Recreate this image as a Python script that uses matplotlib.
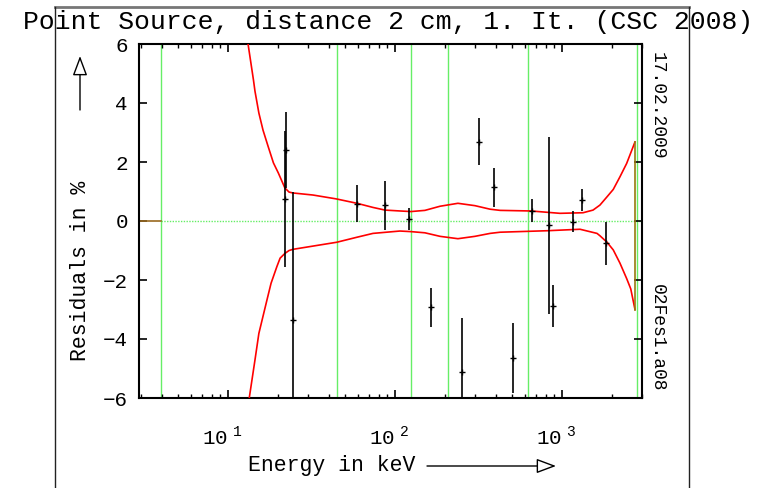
import matplotlib
matplotlib.use("Agg")
import matplotlib.pyplot as plt
from matplotlib.lines import Line2D
from matplotlib.patches import FancyArrowPatch
from matplotlib.ticker import LogLocator, NullFormatter, FixedLocator
from matplotlib.transforms import ScaledTranslation
import numpy as np

W, H = 772, 488

# ---------------- data ----------------
energies = [21.9, 22.2, 24.6, 59.0, 87.1, 121.8, 164, 253, 318.6, 390, 511, 658, 832, 887, 1164, 1324, 1833]
residuals = [0.74, 2.41, -3.36, 0.58, 0.54, 0.06, -2.93, -5.13, 2.69, 1.14, -4.65, 0.35, -0.14, -2.88, -0.02, 0.71, -0.76]
errors = [2.3, 1.3, 4.35, 0.63, 0.83, 0.37, 0.66, 1.85, 0.8, 0.67, 1.19, 0.4, 3.0, 0.7, 0.35, 0.36, 0.74]

upper_e = [12.8, 13.18, 14.2, 14.5, 15.3, 16.2, 17.4, 18.7, 20.0, 21.9, 23.2, 24.5, 32.3, 44.4, 59.2, 73.8,
           87.1, 107, 124.6, 151, 186, 238, 301, 371, 426, 652, 972, 1336, 1534, 1687, 1860, 2027, 2224,
           2438, 2735]
upper_v = [7.0, 6.0, 4.78, 4.4, 3.66, 3.08, 2.52, 1.97, 1.63, 1.12, 0.98, 0.95, 0.88, 0.75, 0.6, 0.46,
           0.37, 0.34, 0.32, 0.36, 0.5, 0.6, 0.52, 0.4, 0.36, 0.34, 0.26, 0.28, 0.37, 0.54, 0.82, 1.07, 1.5,
           1.95, 2.68]
lower_e = [13.0, 13.4, 14.5, 15.3, 17.1, 18.1, 19.6, 20.5, 21.9, 23.2, 24.5, 44.8, 59.2, 73.8, 107, 124.6,
           151, 186, 238, 301, 371, 426, 813, 1282, 1620, 1687, 1860, 2027, 2224, 2438, 2580, 2735]
lower_v = [-7.0, -6.0, -4.71, -3.81, -2.68, -2.11, -1.55, -1.26, -1.1, -1.0, -0.96, -0.72, -0.55, -0.42,
           -0.34, -0.36, -0.4, -0.52, -0.6, -0.52, -0.42, -0.38, -0.33, -0.28, -0.42, -0.5, -0.72, -0.98,
           -1.43, -1.95, -2.3, -3.0]

green_lines = [3.95, 44.8, 124, 208, 624, 2800]

title = "Point Source, distance 2 cm, 1. It. (CSC 2008)"
xlabel = "Energy in keV"
ylabel = "Residuals in %"
date_text = "17.02.2009"
file_text = "02Fes1.a08"
yticks = [-6, -4, -2, 0, 2, 4, 6]
xticks = [10, 100, 1000]
xticklabels = [r"$\mathrm{10}^{\ 1}$", r"$\mathrm{10}^{\ 2}$", r"$\mathrm{10}^{\ 3}$"]

# ---------------- style ----------------
FONT = ["Liberation Mono", "DejaVu Sans"]
plt.rcParams["font.family"] = FONT
plt.rcParams["mathtext.fontset"] = "custom"
plt.rcParams["mathtext.rm"] = "Liberation Mono"
plt.rcParams["axes.unicode_minus"] = True

fig = plt.figure(figsize=(W / 100, H / 100), dpi=100)

def fx(px):
    return px / W

def fy(py):
    return 1 - py / H

ax_l, ax_r, ax_t, ax_b = 139, 642, 44, 398
ax = fig.add_axes([fx(ax_l), fy(ax_b), fx(ax_r) - fx(ax_l), fy(ax_t) - fy(ax_b)])
ax.set_xscale("log")
ax.set_xlim(2.93, 3013)
ax.set_ylim(-6, 6)

# green vertical lines
for e in green_lines:
    ax.axvline(e, color="#66ee66", lw=1.0, zorder=1)
# zero line
ax.plot([2.93, 3.95], [0, 0], color="#9a6a20", lw=1.2, zorder=2)
ax.plot([3.95, 3013], [0, 0], color="#66ee66", lw=1.0, ls=(0, (1, 1)), zorder=1)

# band
ax.plot(upper_e, upper_v, color="red", lw=1.2, zorder=3, solid_joinstyle="round")
ax.plot(lower_e, lower_v, color="red", lw=1.2, zorder=3, solid_joinstyle="round")
ax.plot([upper_e[-1], lower_e[-1]], [upper_v[-1], lower_v[-1]], color="#9a7a10", lw=1.2, zorder=3)

# data
ax.errorbar(energies, residuals, yerr=errors, fmt="+", color="black", ms=5, mew=1.0,
            elinewidth=1.2, capsize=0, zorder=4)

# ticks
ax.yaxis.set_major_locator(FixedLocator(yticks))
ax.set_yticklabels([("\u2212%d" % abs(v)) if v < 0 else "%d" % v for v in yticks])
ax.xaxis.set_major_locator(FixedLocator(xticks))
ax.set_xticklabels(xticklabels)
ax.xaxis.set_minor_locator(LogLocator(base=10, subs=np.arange(2, 10), numticks=20))
ax.xaxis.set_minor_formatter(NullFormatter())
ax.tick_params(axis="both", which="major", direction="in", length=6, width=1.2,
               top=True, right=True, labelsize=15)
ax.tick_params(axis="both", which="minor", direction="in", length=3, width=1.0,
               top=True, right=True)
ax.tick_params(axis="x", which="major", pad=20)
ax.tick_params(axis="y", which="major", pad=8)
for s in ax.spines.values():
    s.set_linewidth(1.5)
shift = ScaledTranslation(-6 / 100, 0, fig.dpi_scale_trans)
for lbl in ax.get_xticklabels():
    lbl.set_transform(lbl.get_transform() + shift)

# texts
fig.text(fx(388), fy(22), title, ha="center", va="center", fontsize=19)
fig.text(fx(332), fy(466), xlabel, ha="center", va="center", fontsize=15.5)
fig.text(fx(80), fy(271), ylabel, ha="center", va="center", rotation=90, fontsize=15.5)
fig.text(fx(657), fy(106), date_text, ha="center", va="center", rotation=270, fontsize=13)
fig.text(fx(657), fy(338), file_text, ha="center", va="center", rotation=270, fontsize=13)

# arrows
arrow_kw = dict(arrowstyle="-|>,head_length=1.2,head_width=0.45", mutation_scale=10,
                fc="white", ec="black", lw=1.0, shrinkA=0, shrinkB=0, transform=fig.transFigure)
fig.add_artist(FancyArrowPatch((fx(427), fy(466)), (fx(556), fy(466)), **arrow_kw))
fig.add_artist(FancyArrowPatch((fx(80), fy(110)), (fx(80), fy(56)), **arrow_kw))

# frame lines
fig.add_artist(Line2D([fx(55), fx(689)], [fy(7), fy(7)], color="#777777", lw=2, transform=fig.transFigure))
fig.add_artist(Line2D([fx(55), fx(55)], [fy(7), fy(488)], color="#222222", lw=1, transform=fig.transFigure))
fig.add_artist(Line2D([fx(689), fx(689)], [fy(7), fy(488)], color="#222222", lw=1, transform=fig.transFigure))

fig.savefig("out.png", dpi=100)
